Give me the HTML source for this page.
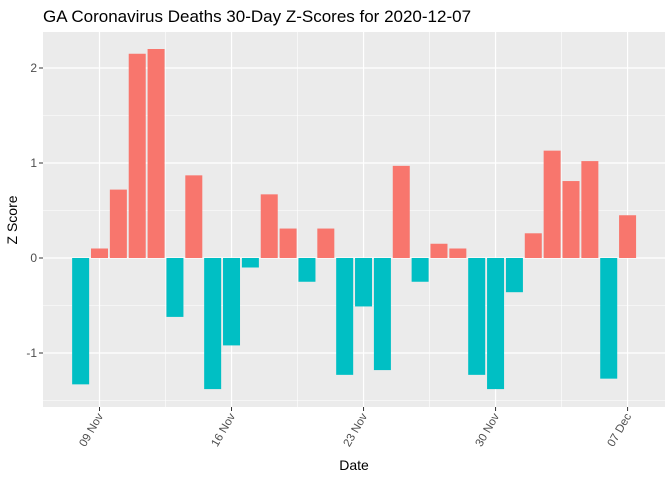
<!DOCTYPE html>
<html><head><meta charset="utf-8"><style>
body{margin:0;background:#fff;font-family:"Liberation Sans",Arial,sans-serif}
svg text{font-family:"Liberation Sans",Arial,sans-serif}
</style></head><body>
<svg id="chart" width="672" height="480" xmlns="http://www.w3.org/2000/svg">
<rect width="672" height="480" fill="#fff"/>
<text x="43" y="22" font-size="17" fill="#000">GA Coronavirus Deaths 30-Day Z-Scores for 2020-12-07</text>
<rect x="43" y="32" width="622" height="375" fill="#ebebeb"/>
<g id="grid"></g>
<g id="bars"></g>
<g id="axes"></g>
<text x="354" y="470" font-size="14" text-anchor="middle">Date</text>
<text transform="translate(17,220) rotate(-90)" font-size="14" text-anchor="middle">Z Score</text>
</svg>
<script>
// days offset from 08 Nov 2020
const dayOffsets=[0,1,2,3,4,5,6,7,8,9,10,11,12,13,14,15,16,17,18,19,20,21,22,23,24,25,26,27,28,29];
const zScores=[-1.33,0.10,0.72,2.15,2.20,-0.62,0.87,-1.38,-0.92,-0.10,0.67,0.31,-0.25,0.31,-1.23,-0.51,-1.18,0.97,-0.25,0.15,0.10,-1.23,-1.38,-0.36,0.26,1.13,0.81,1.02,-1.27,0.45];
const xTickDays=[1,8,15,22,29];
const xTickLabels=["09 Nov","16 Nov","23 Nov","30 Nov","07 Dec"];
const yTicks=[-1,0,1,2];
const yTickLabels=["-1","0","1","2"];
const NS="http://www.w3.org/2000/svg";
const x=d=>99.5+(d-1)*18.86;
const y=v=>258-v*95;
function mk(t,a,p){const e=document.createElementNS(NS,t);for(const k in a)e.setAttribute(k,a[k]);p.appendChild(e);return e;}
const grid=document.getElementById('grid'),bars=document.getElementById('bars'),axes=document.getElementById('axes');
[-1.5,-0.5,0.5,1.5].forEach(v=>{const l=mk('line',{x1:43,x2:665,y1:y(v),y2:y(v),stroke:'#fff','stroke-width':0.6},grid);

});
for(let i=0;i<xTickDays.length-1;i++){const d=(xTickDays[i]+xTickDays[i+1])/2;const l=mk('line',{x1:x(d),x2:x(d),y1:32,y2:407,stroke:'#fff','stroke-width':0.6},grid);

}
yTicks.forEach((v,i)=>{const l=mk('line',{x1:43,x2:665,y1:y(v),y2:y(v),stroke:'#fff','stroke-width':1.2},grid);


mk('line',{x1:39,x2:43,y1:y(v),y2:y(v),stroke:'#333','stroke-width':1},axes);
const t=mk('text',{x:37,y:y(v)+4,'font-size':12,'text-anchor':'end',fill:'#4d4d4d'},axes);t.textContent=yTickLabels[i];

});
xTickDays.forEach((d,i)=>{const l=mk('line',{x1:x(d),x2:x(d),y1:32,y2:407,stroke:'#fff','stroke-width':1.2},grid);


mk('line',{x1:x(d),x2:x(d),y1:407,y2:411,stroke:'#333','stroke-width':1},axes);
const t=mk('text',{transform:`translate(${x(d)+4},416) rotate(-60)`,'font-size':11.5,'text-anchor':'end',fill:'#4d4d4d'},axes);t.textContent=xTickLabels[i];

});
dayOffsets.forEach((d,i)=>{const v=zScores[i];const top=Math.min(y(v),y(0));const h=Math.abs(y(v)-y(0));
const r=mk('rect',{x:x(d)-8.5,y:top,width:17,height:h,fill:v>=0?'#f8766d':'#00bfc4'},bars);

});
</script>
</body></html>
